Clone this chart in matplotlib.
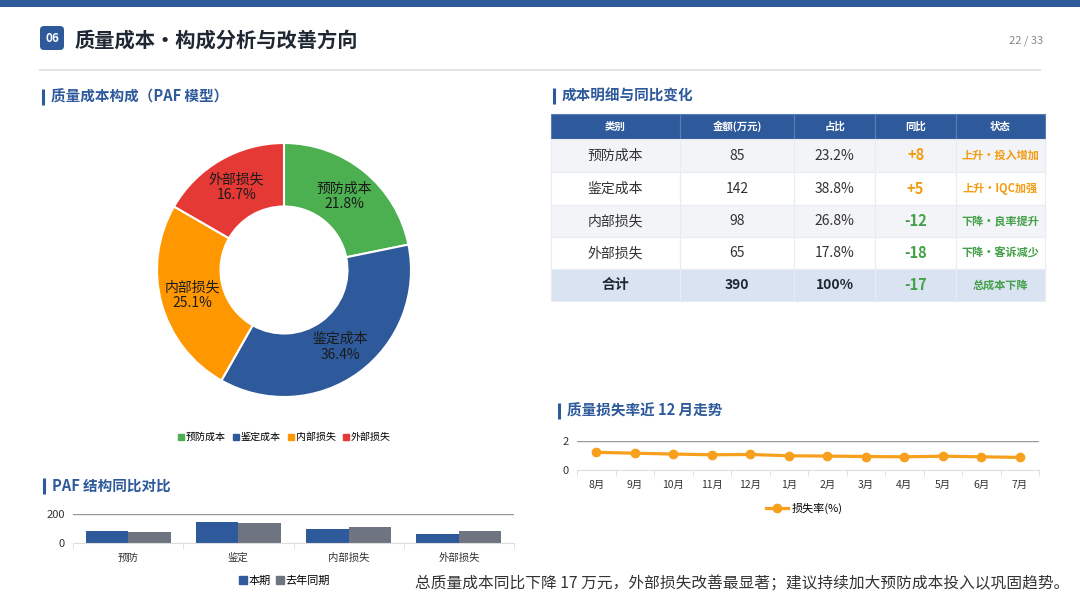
import matplotlib
matplotlib.use("Agg")
import matplotlib.pyplot as plt
from matplotlib.patches import FancyBboxPatch, Rectangle
from matplotlib.lines import Line2D
import numpy as np

plt.rcParams['font.family'] = ['Noto Sans CJK SC', 'DejaVu Sans']
plt.rcParams['axes.unicode_minus'] = False

# ---- data ----
categories = ['预防成本', '鉴定成本', '内部损失', '外部损失']
short_cats = ['预防', '鉴定', '内部损失', '外部损失']
amount_now = [85, 142, 98, 65]
amount_last = [77, 137, 110, 83]
share_text = ['23.2%', '38.8%', '26.8%', '17.8%']
yoy_text = ['+8', '+5', '-12', '-18']
status_text = ['上升•投入增加', '上升•IQC加强', '下降•良率提升', '下降•客诉减少']
total_row = ['合计', '390', '100%', '-17', '总成本下降']
table_header = ['类别', '金额(万元)', '占比', '同比', '状态']

months = ['8月', '9月', '10月', '11月', '12月', '1月', '2月', '3月', '4月', '5月', '6月', '7月']
loss_rate = [1.22, 1.16, 1.10, 1.05, 1.07, 0.98, 0.96, 0.93, 0.91, 0.95, 0.91, 0.87]

BLUE = '#2E5A9C'
GREEN = '#4CAF50'
ORANGE = '#FF9800'
RED = '#E53935'
GREY_BAR = '#6E7580'
TXT = '#333333'
pie_colors = [GREEN, BLUE, ORANGE, RED]

W, H = 1080, 608
fig = plt.figure(figsize=(W / 100, H / 100), dpi=100)
fig.patch.set_facecolor('white')


def px_ax(x0, y0, x1, y1, **kw):
    return fig.add_axes([x0 / W, 1 - y1 / H, (x1 - x0) / W, (y1 - y0) / H], **kw)


# background / decoration layer
bg = px_ax(0, 0, W, H)
bg.set_xlim(0, W)
bg.set_ylim(H, 0)
bg.axis('off')
bg.add_patch(Rectangle((0, 0), W, 7, color=BLUE, lw=0))
bg.add_patch(FancyBboxPatch((40, 26), 24, 24, boxstyle='round,pad=0,rounding_size=4',
                            color=BLUE, lw=0))
bg.text(52, 38.5, '06', color='white', fontsize=8.5, fontweight='bold', ha='center', va='center')
bg.text(75, 40, '质量成本・构成分析与改善方向', color='#1F2733', fontsize=14.6, fontweight='bold',
        va='center')
bg.text(1043, 41, '22 / 33', color='#888888', fontsize=8, ha='right', va='center')
bg.plot([40, 1040], [70, 70], color='#E3E3E3', lw=1.5)


def section(x, y, text):
    bg.plot([x, x], [y - 8, y + 8], color=BLUE, lw=2.2, solid_capstyle='butt')
    bg.text(x + 8, y, text, color=BLUE, fontsize=10.5, fontweight='bold', va='center')


section(43, 97, '质量成本构成（PAF 模型）')
section(554, 96, '成本明细与同比变化')
section(559, 411, '质量损失率近 12 月走势')
section(44, 486, 'PAF 结构同比对比')

bg.text(415, 584, '总质量成本同比下降 17 万元，外部损失改善最显著；建议持续加大预防成本投入以巩固趋势。',
        color=TXT, fontsize=11.3, va='center')

# ---- donut ----
pax = px_ax(157, 143, 411, 397)
wedges, _ = pax.pie(amount_now, colors=pie_colors, startangle=90, counterclock=False,
                    radius=1, wedgeprops=dict(width=0.5, edgecolor='white', linewidth=1.5))
total = sum(amount_now)
for w, cat, v in zip(wedges, categories, amount_now):
    ang = np.deg2rad((w.theta1 + w.theta2) / 2)
    pax.text(0.75 * np.cos(ang), 0.75 * np.sin(ang), f'{cat}\n{v / total * 100:.1f}%',
             ha='center', va='center', fontsize=10, color='#1a1a1a', linespacing=1.15)
pax.set_xlim(-1, 1)
pax.set_ylim(-1, 1)
pax.set_aspect('equal')
pax.axis('off')

pie_handles = [Line2D([], [], marker='s', ls='', color=c, markersize=5) for c in pie_colors]
fig.legend(pie_handles, categories, loc='center', bbox_to_anchor=(284 / W, 1 - 437 / H),
           ncol=4, frameon=False, fontsize=7.2, handletextpad=0.1, columnspacing=0.6,
           handlelength=0.8)

# ---- table ----
tax = px_ax(551, 114, 1045, 301)
tax.axis('off')
cell_text = [[c, str(a), s, y, st] for c, a, s, y, st in
             zip(categories, amount_now, share_text, yoy_text, status_text)] + [total_row]
col_w = [129, 114, 81, 81, 89]
tbl = tax.table(cellText=cell_text, colLabels=table_header, colWidths=[c / sum(col_w) for c in col_w],
                bbox=[0, 0, 1, 1], cellLoc='center')
tbl.auto_set_font_size(False)
row_h = [25, 33, 33, 32, 32, 32]
nrows = len(cell_text) + 1
for (r, c), cell in tbl.get_celld().items():
    cell.set_height(row_h[r] / sum(row_h))
    cell.set_edgecolor('#E8ECF2')
    cell.set_linewidth(0.8)
    t = cell.get_text()
    if r == 0:
        cell.set_facecolor(BLUE)
        cell.set_edgecolor('#5A7DB5')
        t.set_color('white')
        t.set_fontsize(7.5)
        t.set_fontweight('bold')
        continue
    if r == nrows - 1:
        cell.set_facecolor('#D9E3F1')
        t.set_fontweight('bold')
        t.set_fontsize(10)
        t.set_color('#1F2733')
    else:
        cell.set_facecolor('#F2F4F8' if r % 2 == 1 else 'white')
        t.set_fontsize(10)
        t.set_color(TXT)
    if c >= 3:
        val = cell_text[r - 1][3]
        col = '#F39C12' if val.startswith('+') else '#43A047'
        t.set_color(col)
        t.set_fontweight('bold')
        t.set_fontsize(10.5)
        if c == 4:
            t.set_fontsize(8)

# ---- loss-rate line ----
lax = px_ax(577, 441, 1039, 470)
x = np.arange(len(months))
ln, = lax.plot(x, loss_rate, color='#F7A01D', lw=2.3, marker='o', markersize=6, label='损失率(%)')
lax.set_ylim(0, 2)
lax.set_yticks([0, 2])
lax.set_xlim(-0.5, len(months) - 0.5)
lax.set_xticks(x)
lax.set_xticklabels(months)
lax.set_xticks(np.arange(-0.5, len(months)), minor=True)
lax.tick_params(axis='x', which='major', length=0, labelsize=7.5, pad=7, colors=TXT)
lax.tick_params(axis='x', which='minor', length=4, color='#DDDDDD')
lax.tick_params(axis='y', length=0, labelsize=8, colors=TXT, pad=6)
lax.axhline(2, color='#999999', lw=1)
for s in ['top', 'right', 'left']:
    lax.spines[s].set_visible(False)
lax.spines['bottom'].set_color('#DDDDDD')
fig.legend([ln], ['损失率(%)'], loc='center', bbox_to_anchor=(804 / W, 1 - 508 / H),
           frameon=False, fontsize=8, handlelength=2, handletextpad=0.3)

# ---- PAF bar comparison ----
bax = px_ax(73, 514, 514, 543)
xb = np.arange(len(short_cats))
bw = 0.385
b1 = bax.bar(xb - bw / 2, amount_now, bw, color=BLUE, label='本期')
b2 = bax.bar(xb + bw / 2, amount_last, bw, color=GREY_BAR, label='去年同期')
bax.set_ylim(0, 200)
bax.set_yticks([0, 200])
bax.set_xlim(-0.5, len(short_cats) - 0.5)
bax.set_xticks(xb)
bax.set_xticklabels(short_cats)
bax.set_xticks(np.arange(-0.5, len(short_cats)), minor=True)
bax.tick_params(axis='x', which='major', length=0, labelsize=7.5, pad=7, colors=TXT)
bax.tick_params(axis='x', which='minor', length=4, color='#DDDDDD')
bax.tick_params(axis='y', length=0, labelsize=8, colors=TXT, pad=6)
bax.axhline(200, color='#999999', lw=1, zorder=0)
for s in ['top', 'right', 'left']:
    bax.spines[s].set_visible(False)
bax.spines['bottom'].set_color('#DDDDDD')
bar_handles = [Line2D([], [], marker='s', ls='', color=c, markersize=6) for c in [BLUE, GREY_BAR]]
fig.legend(bar_handles, ['本期', '去年同期'], loc='center', bbox_to_anchor=(284 / W, 1 - 581 / H),
           ncol=2, frameon=False, fontsize=8, handletextpad=0.1, columnspacing=0.4,
           handlelength=0.8)

fig.savefig('out.png', dpi=100, facecolor='white')
